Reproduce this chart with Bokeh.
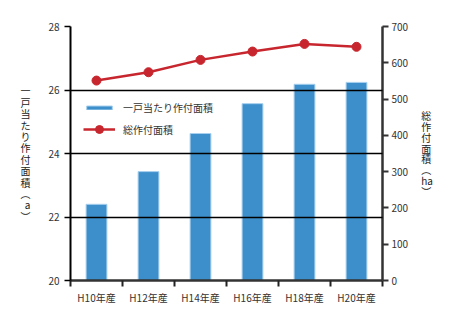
from bokeh.plotting import figure
from bokeh.models import (Range1d, LinearAxis, FixedTicker, Legend, LegendItem,
                          ColumnDataSource)
from bokeh.embed import file_html
from bokeh.resources import INLINE

categories = ["H10年産", "H12年産", "H14年産", "H16年産", "H18年産", "H20年産"]
per_household = [22.4, 23.43, 24.63, 25.57, 26.18, 26.24]   # a (left axis)
total_area = [551, 574, 608, 631, 652, 644]                 # ha (right axis)
left_ticks = [20, 22, 24, 26, 28]
right_ticks = [0, 100, 200, 300, 400, 500, 600, 700]

FONT = "Noto Sans CJK JP"
n = len(categories)
xs = [i + 0.5 for i in range(n)]
src = ColumnDataSource(dict(x=xs, a=per_household, ha=total_area))

p = figure(width=453, height=323, output_backend="svg", toolbar_location=None,
           x_range=Range1d(0, n), y_range=Range1d(20, 28),
           min_border_left=70, min_border_right=71, min_border_top=26,
           min_border_bottom=43)
p.extra_y_ranges = {"area": Range1d(0, 700)}
p.outline_line_color = None
p.background_fill_color = "white"
p.border_fill_color = "white"

bars = p.vbar(x="x", top="a", bottom=20, width=0.4, source=src,
              fill_color="#3d8fcb", line_color="#a8d0ee", line_width=1)
line = p.line(x="x", y="ha", source=src, y_range_name="area",
              line_color="#c8262e", line_width=2.5)
pts = p.scatter(x="x", y="ha", source=src, y_range_name="area", size=9,
                fill_color="#c8262e", line_color="#c8262e")

# x axis: labels at centres, tick marks at category boundaries
xa = p.xaxis[0]
xa.ticker = FixedTicker(ticks=xs, minor_ticks=list(range(n + 1)))
xa.major_label_overrides = {x: c for x, c in zip(xs, categories)}
xa.major_tick_line_color = None
xa.major_tick_out = 6
xa.major_tick_in = 0
xa.minor_tick_out = 6
xa.minor_tick_in = 0
xa.minor_tick_line_color = "#222222"
xa.minor_tick_line_width = 2
xa.axis_line_color = "#333333"
xa.axis_line_width = 2.5
xa.major_label_text_font = FONT
xa.major_label_text_font_size = "10px"
xa.major_label_text_color = "#333333"
xa.major_label_standoff = 3

# left axis
ya = p.yaxis[0]
ya.ticker = FixedTicker(ticks=left_ticks)
ya.minor_tick_line_color = None
ya.major_tick_out = 6
ya.major_tick_in = 0
ya.major_tick_line_color = "black"
ya.major_tick_line_width = 1.5
ya.axis_line_color = "black"
ya.axis_line_width = 2
ya.major_label_text_font = FONT
ya.major_label_text_font_size = "10px"
ya.major_label_text_color = "#333333"
ya.major_label_standoff = 5
ya.axis_label = "\n".join(list("一戸当たり作付面積") + ["︵", "a", "︶"])
ya.axis_label_orientation = "horizontal"
ya.axis_label_text_font = FONT
ya.axis_label_text_font_size = "10px"
ya.axis_label_text_line_height = 0.76
ya.axis_label_text_font_style = "normal"
ya.axis_label_text_color = "#222222"
ya.axis_label_standoff = 15

# right axis
ra = LinearAxis(y_range_name="area", ticker=FixedTicker(ticks=right_ticks))
ra.minor_tick_line_color = None
ra.major_tick_out = 6
ra.major_tick_in = 0
ra.major_tick_line_color = "#333333"
ra.major_tick_line_width = 2
ra.axis_line_color = "#333333"
ra.axis_line_width = 2.5
ra.major_label_text_font = FONT
ra.major_label_text_font_size = "10px"
ra.major_label_text_color = "#333333"
ra.major_label_standoff = 3
ra.axis_label = "\n".join(list("総作付面積") + ["︵", "ha", "︶"])
ra.axis_label_orientation = "horizontal"
ra.axis_label_text_font = FONT
ra.axis_label_text_font_size = "10px"
ra.axis_label_text_line_height = 0.72
ra.axis_label_text_font_style = "normal"
ra.axis_label_text_color = "#222222"
ra.axis_label_standoff = 10
p.add_layout(ra, "right")

p.xgrid.grid_line_color = None
p.ygrid.ticker = FixedTicker(ticks=left_ticks)
p.ygrid.grid_line_color = "black"
p.ygrid.grid_line_width = 1.5
p.ygrid.level = "overlay"

common = dict(border_line_color=None, background_fill_alpha=0, padding=0,
              margin=0, spacing=0, label_text_font=FONT,
              label_text_font_size="10px", label_text_color="#333333",
              label_standoff=8, glyph_width=32)
leg1 = Legend(items=[LegendItem(label="一戸当たり作付面積", renderers=[bars])],
              location=(13, 165), glyph_height=5, label_height=5, **common)
leg2 = Legend(items=[LegendItem(label="総作付面積", renderers=[line, pts])],
              location=(13, 141), glyph_height=20, label_height=5, **common)
p.add_layout(leg1, "center")
p.add_layout(leg2, "center")

open("out.html", "w").write(file_html(p, INLINE))
